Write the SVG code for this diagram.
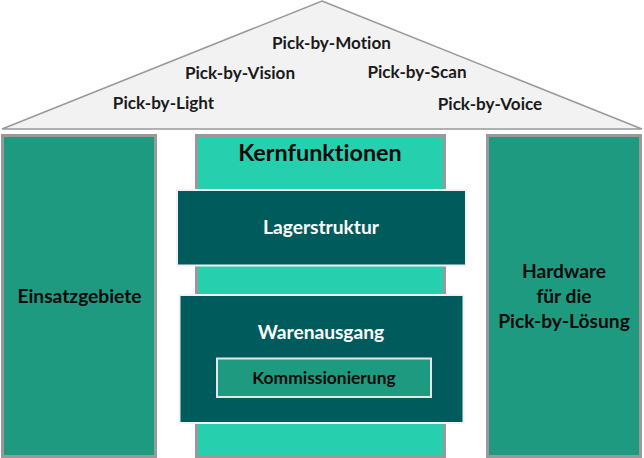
<svg xmlns="http://www.w3.org/2000/svg" width="644" height="458" viewBox="0 0 644 458">
<style>
text{font-family:Lato,"Open Sans",Carlito,sans-serif;font-weight:700;text-anchor:middle;font-variant-ligatures:none}
.roof{font-size:17.100px;fill:#1a1a1a}
.big{font-size:19.200px}
.w{fill:#fff}
.k{fill:#0a0a0a}
.side{fill:#1e9a81;stroke:#999;stroke-width:3}
.core{fill:#26cfae;stroke:#999;stroke-width:3}
.dark{fill:#005c5c;stroke:#f2f2f2;stroke-width:2}
</style>
<rect width="644" height="458" fill="#fff"/>
<g id="roof">
<polygon points="322,1 642,129 2,129" fill="#f2f2f2" stroke="#999" stroke-width="1.500"/>
<text class="roof" x="331.500" y="49">Pick-by-Motion</text>
<text class="roof" x="240" y="79">Pick-by-Vision</text>
<text class="roof" x="417" y="78">Pick-by-Scan</text>
<text class="roof" x="163.500" y="109">Pick-by-Light</text>
<text class="roof" x="490" y="110">Pick-by-Voice</text>
</g>
<g id="einsatzgebiete">
<rect class="side" x="2.500" y="135.500" width="153" height="321"/>
<text class="big k" x="79.500" y="303">Einsatzgebiete</text>
</g>
<g id="hardware">
<rect class="side" x="487.500" y="135.500" width="153" height="321"/>
<text class="big k" x="564" y="278">Hardware</text>
<text class="big k" x="564" y="303">für die</text>
<text class="big k" x="564" y="328">Pick-by-Lösung</text>
</g>
<g id="kernfunktionen">
<rect class="core" x="196.500" y="135.500" width="248" height="321"/>
<text class="k" x="320" y="161" style="font-size:23.400px">Kernfunktionen</text>
</g>
<g id="lagerstruktur">
<rect class="dark" x="177" y="190" width="289" height="75.500"/>
<text class="big w" x="321" y="234">Lagerstruktur</text>
</g>
<g id="warenausgang">
<rect class="dark" x="179.500" y="295" width="284" height="128"/>
<text class="big w" x="321" y="339">Warenausgang</text>
</g>
<g id="kommissionierung">
<rect x="217" y="358.500" width="214" height="38.500" fill="#1e9a81" stroke="#e6e6e6" stroke-width="2"/>
<text class="k" x="324" y="384" style="font-size:17.400px">Kommissionierung</text>
</g>
<g id="connectors"/>
</svg>
